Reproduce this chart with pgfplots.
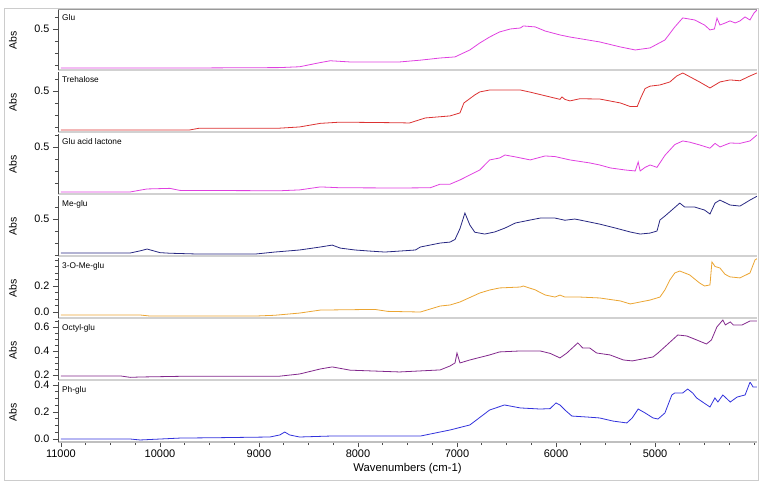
\documentclass[border=0pt]{standalone}
\usepackage{fontspec}
\setmainfont{Liberation Sans}
\usepackage{pgfplots}
\pgfplotsset{compat=1.18}

\definecolor{cMag}{RGB}{224,64,224}
\definecolor{cRed}{RGB}{220,50,50}
\definecolor{cNavy}{RGB}{40,40,130}
\definecolor{cOrange}{RGB}{235,165,50}
\definecolor{cPurple}{RGB}{130,40,140}
\definecolor{cBlue}{RGB}{50,50,220}

\pgfplotsset{
  panel/.style={
    scale only axis, width=699pt, height=60pt,
    anchor=north west,
    xmin=3970, xmax=11030, x dir=reverse,
    axis x line*=bottom, axis y line*=left,
    x axis line style={draw=black!18, line width=2.5pt, -},
    y axis line style={draw=black!70, line width=0.8pt, -},
    xtick=\empty,
    tick style={black!70, line width=0.6pt},
    major tick length=5pt, minor tick length=3pt,
    tick align=outside,
    yticklabel style={font=\fontsize{10.8}{12}\selectfont,
      /pgf/number format/fixed, /pgf/number format/fixed zerofill,
      /pgf/number format/precision=1, /pgf/number format/assume math mode=true},
    ylabel={Abs},
    ylabel style={font=\fontsize{10.5}{12}\selectfont, at={(axis description cs:-0.0644,0.5)}, anchor=center},
    every axis plot/.append style={line width=0.8pt, mark=none},
  },
}
\tikzset{lbl/.style={anchor=north west, font=\fontsize{8.3}{9}\selectfont, inner sep=1pt, xshift=3pt, yshift=-3pt}}

\begin{document}
\begin{tikzpicture}
\useasboundingbox (0pt,0pt) rectangle (763pt,-486pt);
\draw[black!20, line width=1pt] (4pt,-9pt) rectangle (758pt,-480pt);
\draw[black!40, line width=1pt] (58pt,-10pt) -- (757pt,-10pt);

% Glu
\begin{axis}[panel, name=p1, at={(58pt,-10pt)}, ymin=0.158, ymax=0.658,
  ytick={0.5}, minor ytick={0.2,0.3,0.4,0.6}]
\addplot[cMag] coordinates {
(11000,0.175) (9600,0.175) (8790,0.178) (8590,0.185) (8380,0.22) (8280,0.235)
(8080,0.225) (7580,0.225) (7370,0.24) (7170,0.258) (7020,0.267) (6870,0.325)
(6770,0.383) (6670,0.433) (6570,0.475) (6460,0.5) (6360,0.508) (6330,0.525)
(6210,0.517) (6110,0.483) (5960,0.45) (5860,0.433) (5560,0.392) (5350,0.35)
(5200,0.325) (5050,0.342) (4900,0.408) (4800,0.517) (4720,0.592) (4600,0.575)
(4500,0.533) (4445,0.492) (4400,0.5) (4374,0.59) (4344,0.533) (4290,0.55)
(4243,0.567) (4190,0.55) (4142,0.567) (4091,0.6) (4041,0.575) (4000,0.633) (3970,0.658)};
\end{axis}

% Trehalose
\begin{axis}[panel, name=p2, at={(58pt,-72pt)}, ymin=0.158, ymax=0.658,
  ytick={0.5}, minor ytick={0.2,0.3,0.4,0.6}]
\addplot[cRed] coordinates {
(11000,0.175) (9700,0.175) (9600,0.19) (8790,0.19) (8590,0.2) (8380,0.23)
(8180,0.24) (7580,0.235) (7480,0.233) (7320,0.275) (7070,0.292) (6970,0.317)
(6930,0.4) (6820,0.467) (6770,0.492) (6670,0.508) (6460,0.508) (6360,0.508)
(6260,0.49) (6060,0.45) (5960,0.43) (5940,0.45) (5910,0.43) (5860,0.417)
(5760,0.435) (5560,0.433) (5350,0.4) (5250,0.37) (5180,0.37) (5140,0.45)
(5100,0.52) (5050,0.54) (4950,0.55) (4850,0.575) (4780,0.625) (4720,0.65) (4550,0.575)
(4445,0.525) (4344,0.575) (4243,0.592) (4142,0.585) (4041,0.625) (3970,0.65)};
\end{axis}

% Glu acid lactone
\begin{axis}[panel, name=p3, at={(58pt,-134pt)}, ymin=0.108, ymax=0.608,
  ytick={0.5}, minor ytick={0.2,0.3,0.4,0.6}]
\addplot[cMag] coordinates {
(11000,0.125) (10300,0.125) (10200,0.14) (10130,0.15) (9900,0.155) (9800,0.138)
(8790,0.135) (8590,0.142) (8380,0.167) (8180,0.16) (7580,0.158) (7270,0.16)
(7170,0.19) (7070,0.19) (6970,0.225) (6770,0.308) (6670,0.392) (6570,0.408)
(6515,0.433) (6410,0.417) (6260,0.392) (6110,0.425) (6010,0.42) (5860,0.392)
(5660,0.367) (5560,0.35) (5450,0.325) (5300,0.308) (5200,0.3) (5170,0.375)
(5150,0.3) (5100,0.33) (5050,0.35) (4980,0.33) (4900,0.43) (4800,0.52)
(4720,0.55) (4650,0.54) (4550,0.517) (4445,0.49) (4394,0.53) (4344,0.5)
(4243,0.533) (4142,0.53) (4041,0.55) (3970,0.6)};
\end{axis}

% Me-glu
\begin{axis}[panel, name=p4, at={(58pt,-196pt)}, ymin=0.192, ymax=0.692,
  ytick={0.5}, minor ytick={0.2,0.3,0.4,0.6}]
\addplot[cNavy] coordinates {
(11000,0.217) (10300,0.217) (10200,0.235) (10130,0.25) (10000,0.22) (9900,0.215)
(9600,0.208) (9040,0.208) (8840,0.225) (8590,0.242) (8380,0.267) (8260,0.283)
(8180,0.258) (8030,0.242) (7880,0.233) (7730,0.225) (7580,0.233) (7420,0.242)
(7370,0.267) (7170,0.3) (7070,0.308) (7020,0.33) (6970,0.42) (6920,0.55)
(6870,0.45) (6820,0.39) (6720,0.375) (6620,0.392) (6515,0.425) (6410,0.467)
(6260,0.492) (6160,0.508) (6010,0.508) (5910,0.49) (5810,0.5) (5760,0.492)
(5660,0.475) (5560,0.458) (5400,0.425) (5250,0.392) (5150,0.375) (5050,0.383)
(4980,0.4) (4950,0.492) (4900,0.525) (4830,0.575) (4750,0.633) (4700,0.6)
(4600,0.6) (4500,0.575) (4445,0.542) (4394,0.633) (4344,0.658) (4243,0.617)
(4142,0.608) (4091,0.633) (4041,0.658) (3970,0.69)};
\end{axis}

% 3-O-Me-glu
\begin{axis}[panel, name=p5, at={(58pt,-258pt)}, ymin=-0.046, ymax=0.415,
  ytick={0,0.2}, minor ytick={0.05,0.1,0.15,0.25,0.3,0.35,0.4}]
\addplot[cOrange] coordinates {
(11000,-0.023) (10200,-0.023) (10100,-0.031) (9040,-0.031) (8840,-0.025) (8590,-0.008)
(8380,0.015) (7830,0.02) (7700,0.005) (7370,0.0) (7170,0.046) (7070,0.054)
(6970,0.077) (6770,0.146) (6670,0.169) (6570,0.185) (6360,0.192) (6330,0.2)
(6210,0.17) (6110,0.131) (6010,0.115) (5960,0.13) (5910,0.115) (5760,0.115)
(5560,0.108) (5350,0.085) (5250,0.062) (5050,0.092) (4950,0.115) (4900,0.17)
(4850,0.246) (4800,0.3) (4750,0.315) (4650,0.285) (4550,0.223) (4500,0.2)
(4445,0.208) (4425,0.385) (4394,0.35) (4344,0.338) (4293,0.29) (4243,0.27)
(4142,0.262) (4041,0.3) (3990,0.4) (3970,0.41)};
\end{axis}

% Octyl-glu
\begin{axis}[panel, name=p6, at={(58pt,-320pt)}, ymin=0.158, ymax=0.658,
  ytick={0.2,0.4,0.6}, minor ytick={0.25,0.3,0.35,0.45,0.5,0.55,0.65}]
\addplot[cPurple] coordinates {
(11000,0.192) (10400,0.192) (10300,0.18) (10200,0.183) (9700,0.19) (8790,0.19)
(8590,0.208) (8380,0.25) (8260,0.267) (8080,0.24) (7580,0.225) (7170,0.242)
(7070,0.275) (7020,0.3) (7000,0.383) (6970,0.3) (6870,0.325) (6670,0.367)
(6570,0.392) (6360,0.4) (6160,0.4) (6060,0.38) (5960,0.342) (5890,0.383)
(5780,0.467) (5730,0.425) (5660,0.425) (5590,0.383) (5455,0.367) (5320,0.325)
(5230,0.317) (5020,0.35) (4970,0.383) (4880,0.45) (4770,0.533) (4680,0.525)
(4580,0.492) (4480,0.458) (4430,0.492) (4375,0.6) (4315,0.658) (4290,0.617)
(4240,0.642) (4210,0.617) (4120,0.617) (4040,0.65) (3970,0.65)};
\end{axis}

% Ph-glu
\begin{axis}[panel, name=p7, at={(58pt,-382pt)}, ymin=-0.022, ymax=0.422,
  ytick={0,0.2,0.4}, minor ytick={0.05,0.1,0.15,0.25,0.3,0.35},
  x axis line style={draw=black!25, line width=2pt, -},
  xtick={5000,6000,7000,8000,9000,10000,11000},
  minor xtick={4000,4250,4500,4750,5250,5500,5750,6250,6500,6750,7250,7500,7750,8250,8500,8750,9250,9500,9750,10250,10500,10750},
  scaled x ticks=false,
  xticklabel style={font=\fontsize{11}{12}\selectfont,
    /pgf/number format/set thousands separator={}, /pgf/number format/assume math mode=true},
  xticklabel shift=-1pt,
  xlabel={Wavenumbers (cm-1)},
  xlabel style={font=\fontsize{11.3}{12}\selectfont, at={(axis description cs:0.5,0)}, yshift=-27pt, anchor=center}]
\addplot[cBlue] coordinates {
(11000,0.0) (10300,0.0) (10200,-0.007) (10000,0.0) (9800,0.007) (9400,0.01)
(8890,0.015) (8790,0.03) (8740,0.052) (8690,0.03) (8590,0.015) (8280,0.022)
(7980,0.022) (7370,0.022) (7170,0.052) (7070,0.067) (6870,0.104) (6670,0.215)
(6520,0.252) (6360,0.23) (6160,0.222) (6060,0.225) (6000,0.267) (5960,0.252)
(5910,0.215) (5840,0.17) (5690,0.163) (5560,0.156) (5425,0.133) (5285,0.119)
(5230,0.156) (5170,0.222) (5100,0.193) (5020,0.156) (4970,0.148) (4900,0.193)
(4830,0.326) (4800,0.341) (4720,0.341) (4670,0.37) (4620,0.341) (4580,0.304)
(4520,0.274) (4445,0.237) (4395,0.304) (4365,0.274) (4315,0.326) (4240,0.274)
(4170,0.311) (4090,0.326) (4040,0.422) (4010,0.385) (3970,0.385)};
\end{axis}

\node[lbl] at (58pt,-10pt) {Glu};
\node[lbl] at (58pt,-72pt) {Trehalose};
\node[lbl] at (58pt,-134pt) {Glu acid lactone};
\node[lbl] at (58pt,-196pt) {Me-glu};
\node[lbl] at (58pt,-258pt) {3-O-Me-glu};
\node[lbl] at (58pt,-320pt) {Octyl-glu};
\node[lbl] at (58pt,-382pt) {Ph-glu};
\end{tikzpicture}
\end{document}
